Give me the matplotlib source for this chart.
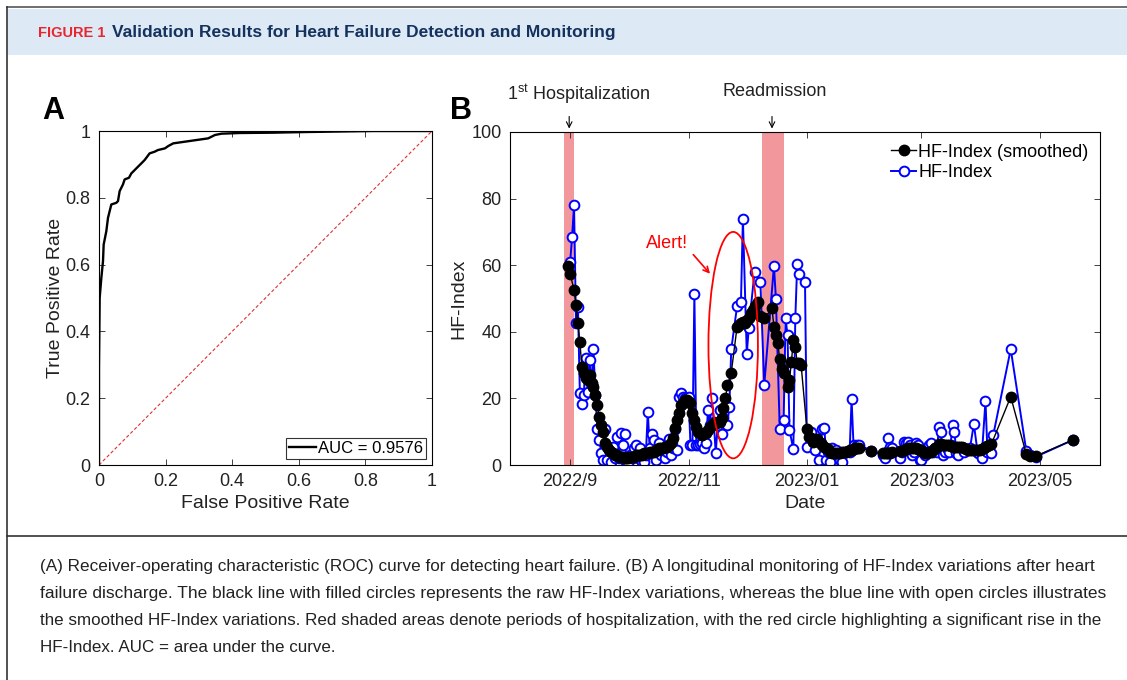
import pandas as pd
import matplotlib
matplotlib.use('Agg')
import matplotlib.pyplot as plt
import matplotlib.dates as mdates
from matplotlib.patches import Rectangle, Ellipse
from matplotlib.lines import Line2D

plt.rcParams['font.family'] = ['Liberation Sans', 'DejaVu Sans']
plt.rcParams['mathtext.fontset'] = 'custom'
plt.rcParams['mathtext.rm'] = 'Liberation Sans'

# ---- Panel A: ROC curve ----
roc_fpr = [0, 0, 0.002, 0.007, 0.012, 0.014, 0.022, 0.027, 0.032, 0.037, 0.052, 0.057,
           0.062, 0.072, 0.077, 0.09, 0.097, 0.112, 0.122, 0.137, 0.152, 0.167, 0.177,
           0.198, 0.208, 0.223, 0.258, 0.293, 0.328, 0.348, 0.368, 0.423, 0.524, 0.624,
           0.825, 1.0]
roc_tpr = [0, 0.29, 0.50, 0.56, 0.61, 0.66, 0.70, 0.74, 0.76, 0.78, 0.785, 0.79,
           0.82, 0.84, 0.855, 0.86, 0.873, 0.888, 0.898, 0.913, 0.933, 0.938, 0.943,
           0.948, 0.955, 0.963, 0.968, 0.973, 0.978, 0.988, 0.992, 0.994, 0.995, 0.997,
           1.0, 1.0]
auc_label = 'AUC = 0.9576'

# ---- Panel B: HF-Index monitoring, days counted from 2022-09-01 ----
start_date = '2022-09-01'
# raw HF-Index, in segments (days / values)
raw_days_1 = [0, 1, 2, 3, 4, 5, 6, 7, 8, 9,
              10, 11, 12, 13, 14, 15, 16, 17, 18, 19,
              20, 21, 22, 23, 24, 25, 26, 27, 28, 29,
              30, 31, 32, 33, 34, 35, 36, 37, 38, 39,
              40, 41, 42, 43, 44, 45, 46, 47, 48, 49,
              50, 51, 52, 53, 54, 55, 56, 57, 58, 59,
              60, 61, 62, 63, 64, 65, 66, 67, 68, 69,
              70, 71, 72, 73, 74, 75, 76, 77, 78, 79,
              80, 81, 82, 83]
raw_vals_1 = [61, 68.6, 78, 42.5, 47.5, 21.5, 18.3, 21, 32, 22,
              31.5, 24, 34.7, 21, 10.7, 7.5, 3.7, 1.5, 10.7, 1.5,
              5.5, 1, 5.5, 2, 8.5, 2, 9.5, 6, 9.3, 1,
              0.5, 3, 2, 5, 6, 2, 5, 1, 1, 3,
              16, 5, 9.3, 7.5, 1.5, 4, 6.5, 3, 5, 2,
              4, 7.7, 3, 5, 10.7, 4.5, 20.5, 21.5, 20.5, 20,
              20, 20.3, 6, 6, 51.5, 6, 6, 6.3, 6.5, 5,
              6.5, 16.5, 12, 20, 13, 3.5, 12, 16.5, 9.3, 14,
              17.5, 12, 17.5, 34.7]
raw_days_2 = [86, 88, 89, 91, 92, 95, 98, 100, 105, 106,
              108, 110, 111, 112, 113, 115, 116, 117, 118, 121,
              122, 124, 126, 128, 130, 131, 132, 133, 134, 135,
              137, 139, 140, 142, 144, 145, 146, 147, 148, 149,
              155]
raw_vals_2 = [47.7, 49, 74, 33.3, 41, 58, 55, 24, 59.8, 50,
              10.7, 13.5, 44, 39, 10.5, 4.7, 44, 60.5, 57.5, 55,
              5.5, 10, 4.5, 1.5, 10.7, 11, 1.5, 4, 1, 5,
              4.5, 1.5, 1, 4, 4, 19.7, 6, 5, 6, 6,
              4.3]
raw_days_3 = [161, 162, 163, 164, 165, 166,
              170, 171, 172, 173, 174, 175, 176, 177, 178, 179,
              180, 181, 182, 183, 184, 185, 186, 187, 188, 189,
              190, 191, 192, 193, 194, 195, 196, 197, 198, 199,
              200, 203, 206, 208, 210, 212, 214, 215, 217, 218,
              227, 235, 237, 240, 259]
raw_vals_3 = [3, 2, 4, 8, 5.5, 5,
              2, 4, 7, 6.5, 7, 6, 3, 4, 6.5, 6,
              1.5, 1.5, 4, 3, 5, 6, 6.5, 4, 5, 4,
              11.5, 10, 3, 4, 5, 4, 6, 12, 10, 3.5,
              3, 4, 5, 12.3, 3.5, 2, 19.3, 4, 3.7, 9,
              34.8, 4.3, 3, 2.5, 7.5]

smooth_days = [-1, 0, 2, 3, 4, 5, 6, 7, 8, 9, 10, 11, 12, 13, 14, 15, 16, 17, 18, 19, 20,
               21, 22, 23, 24, 25, 26, 27, 28, 29, 30, 31, 32, 33, 34, 35, 36, 37, 38, 39, 40,
               41, 42, 43, 44, 45, 46, 47, 48, 49, 50, 51, 52, 53, 54, 55, 56, 57, 58, 59, 60,
               61, 62, 63, 64, 65, 66, 67, 68, 69, 70, 71, 72, 73, 74, 75, 76, 77, 78, 79, 80,
               81, 83, 86, 87, 88, 89, 90, 91, 92, 93, 94, 95, 97, 98, 100, 104, 105, 106, 107,
               108, 109, 110, 112, 113, 114, 115, 116, 117, 118, 119, 122, 123, 124, 125, 126,
               127, 128, 129, 130, 131, 132, 133, 134, 135, 136, 137, 138, 139, 140, 141, 142,
               143, 144, 145, 146, 147, 148, 149, 155, 161, 162, 163, 164, 165, 166, 170, 171,
               172, 173, 174, 175, 176, 177, 178, 179, 180, 181, 182, 183, 184, 185, 186, 187,
               188, 189, 190, 191, 192, 193, 194, 195, 196, 197, 198, 199, 200, 201, 202, 203,
               204, 205, 206, 207, 208, 209, 210, 211, 212, 213, 214, 215, 216, 217, 227, 235,
               237, 240, 259]
smooth_vals = [59.8, 57.5, 52.5, 48, 42.5, 37, 29.5, 27.5, 26, 25.5, 27, 24.5, 23.5, 21, 18,
               14.5, 12, 10, 6.5, 5.5, 4.5, 4, 3.5, 3, 3, 2.5, 2.5, 2.5, 2, 2, 2, 2.5, 2.5,
               2.5, 3, 3, 3, 3, 3.5, 3.5, 3.5, 4, 4, 4, 4.5, 4.5, 5, 5, 5, 5.5, 5.5, 6, 6.5,
               8, 11, 13.5, 15.5, 18, 18.5, 19.5, 19.5, 19, 18.5, 15.5, 13.5, 11.5, 10, 9.5, 9,
               9.5, 9.5, 10.5, 11.5, 12, 12.5, 12.5, 13, 13, 14, 17, 20, 24, 27.7, 41.5, 42,
               42.5, 43, 42.5, 43.5, 44, 45.5, 46.5, 47.7, 49, 44.7, 44, 47, 41.5, 39, 36.5,
               31.7, 28.7, 27.5, 23.5, 25.5, 31, 37.5, 35.5, 30.5, 30.5, 30, 10.7, 8.5, 8, 7,
               7.5, 7.7, 7, 6.5, 6, 5.5, 5, 4.7, 4, 3.5, 3.5, 3.7, 3.7, 3.7, 3.8, 4, 4, 4.2,
               4.5, 4.5, 4.7, 5, 5, 5.2, 4.2, 3.5, 3.7, 3.7, 3.7, 3.7, 3.8, 4.2, 4.3, 4.5, 4.7,
               5, 5, 5, 5, 5, 4.8, 4.5, 4.5, 4, 3.5, 3.7, 4, 4, 4.5, 5, 5.5, 6.3, 6.2, 6, 6, 6,
               6, 5.8, 5.5, 5.5, 5.5, 5.5, 5.5, 5.3, 5, 4.8, 4.5, 4.5, 4.5, 4.5, 4.5, 4.5, 4.5,
               4.8, 5, 5.5, 5.8, 6, 6.2, 20.5, 3.3, 2.7, 2.7, 7.5]

hosp_periods = [('2022-08-29', '2022-09-03'), ('2022-12-09', '2022-12-20')]
date_ticks = ['2022-09-01', '2022-11-01', '2023-01-01', '2023-03-01', '2023-05-01']
date_tick_labels = ['2022/9', '2022/11', '2023/01', '2023/03', '2023/05']

caption_lines = [
    '(A) Receiver-operating characteristic (ROC) curve for detecting heart failure. (B) A longitudinal monitoring of HF-Index variations after heart',
    'failure discharge. The black line with filled circles represents the raw HF-Index variations, whereas the blue line with open circles illustrates',
    'the smoothed HF-Index variations. Red shaded areas denote periods of hospitalization, with the red circle highlighting a significant rise in the',
    'HF-Index. AUC = area under the curve.',
]

base = pd.Timestamp(start_date)
raw_days = raw_days_1 + raw_days_2 + raw_days_3
raw_vals = raw_vals_1 + raw_vals_2 + raw_vals_3
raw_dates = base + pd.to_timedelta(raw_days, unit='D')
smooth_dates = base + pd.to_timedelta(smooth_days, unit='D')

W, H = 1127, 680
fig = plt.figure(figsize=(W / 100, H / 100), dpi=100)
renderer = fig.canvas.get_renderer()


def fx(px):
    return px / W


def fy(py):
    return 1 - py / H


def fit_width(t, target_px):
    # scale the font so the text spans about target_px pixels
    w = t.get_window_extent(renderer).width
    t.set_fontsize(t.get_fontsize() * target_px / w)


# header banner and frame lines
fig.patches.append(Rectangle((fx(8), fy(55)), 1, fy(9) - fy(55), transform=fig.transFigure,
                             facecolor='#dde9f5', edgecolor='none', zorder=0))
fig.lines.append(Line2D([fx(7), 1], [fy(7), fy(7)], transform=fig.transFigure, color='#555555', lw=1.2))
fig.lines.append(Line2D([fx(7), fx(7)], [fy(7), 0], transform=fig.transFigure, color='#333333', lw=1.2))
fig.lines.append(Line2D([fx(7), 1], [fy(536), fy(536)], transform=fig.transFigure, color='#333333', lw=1.2))

fig.text(fx(38), fy(33), 'FIGURE 1', color='#e8262e', fontsize=10.5, fontweight='bold',
         va='center', ha='left')
t2 = fig.text(fx(112), fy(33), 'Validation Results for Heart Failure Detection and Monitoring',
              color='#14325e', fontsize=11, fontweight='bold', va='center', ha='left')
fit_width(t2, 504)

cap_targets = [1050, 1060, 1057, 0]
for i, line in enumerate(caption_lines):
    t = fig.text(fx(40), fy(566 + 27.3 * i), line, fontsize=11,
                 color='#222222', va='center', ha='left')
    if cap_targets[i]:
        fit_width(t, cap_targets[i])
        cap_size = t.get_fontsize()
    else:
        t.set_fontsize(cap_size)

# ---- Panel A ----
axA = fig.add_axes([fx(99), fy(465), fx(432) - fx(99), fy(131) - fy(465)])
axA.plot(roc_fpr, roc_tpr, color='black', lw=1.7, label=auc_label)
axA.plot([0, 1], [0, 1], color='#e03030', lw=0.8, ls=(0, (3, 2)))
axA.set_xlim(0, 1)
axA.set_ylim(0, 1)
axA.set_xticks([0, 0.2, 0.4, 0.6, 0.8, 1])
axA.set_xticklabels(['0', '0.2', '0.4', '0.6', '0.8', '1'])
axA.set_yticks([0, 0.2, 0.4, 0.6, 0.8, 1])
axA.set_yticklabels(['0', '0.2', '0.4', '0.6', '0.8', '1'])
axA.tick_params(direction='in', top=True, right=True, labelsize=13, length=4, width=0.6,
                colors='#222222', pad=6)
axA.set_xlabel('False Positive Rate', fontsize=14, color='#222222', labelpad=3)
axA.set_ylabel('True Positive Rate', fontsize=14, color='#222222', labelpad=1)
leg = axA.legend(loc='lower right', fontsize=12, frameon=True, fancybox=False, handlelength=1.6,
                 handletextpad=0.1, borderpad=0.2, borderaxespad=0.35)
leg.get_frame().set_edgecolor('black')
leg.get_frame().set_linewidth(0.8)
for s in axA.spines.values():
    s.set_linewidth(0.8)
fig.text(fx(53), fy(111), 'A', fontsize=22, fontweight='bold', va='center', ha='center')

# ---- Panel B ----
axB = fig.add_axes([fx(510), fy(465), fx(1100) - fx(510), fy(132) - fy(465)])
for a, b in hosp_periods:
    axB.axvspan(pd.Timestamp(a), pd.Timestamp(b), color='#f2979b', lw=0, zorder=0)
axB.plot(smooth_dates, smooth_vals, color='black', lw=1.0, marker='o', ms=7.5,
         mfc='black', mec='black', label='HF-Index (smoothed)', zorder=3)
axB.plot(raw_dates, raw_vals, color='#0000ff', lw=1.4, marker='o', ms=7, mfc='white',
         mec='#0000ff', mew=1.4, label='HF-Index', zorder=2)
axB.set_xlim(pd.Timestamp('2022-08-01'), pd.Timestamp('2023-06-01'))
axB.set_ylim(0, 100)
axB.set_xticks([pd.Timestamp(d) for d in date_ticks])
axB.set_xticklabels(date_tick_labels)
axB.set_yticks([0, 20, 40, 60, 80, 100])
axB.tick_params(direction='in', top=True, right=True, labelsize=13, length=4, width=0.6,
                colors='#222222', pad=6)
axB.set_xlabel('Date', fontsize=14, color='#222222', labelpad=3)
axB.set_ylabel('HF-Index', fontsize=14, color='#222222', labelpad=3)
for s in axB.spines.values():
    s.set_linewidth(0.8)
leg2 = axB.legend(loc='upper right', fontsize=13, frameon=False, handlelength=1.4,
                  handletextpad=0.1, labelspacing=0.2, borderaxespad=0.25)

# red ellipse and alert
cx = mdates.date2num(base + pd.Timedelta(days=84))
axB.add_patch(Ellipse((cx, 36), 25.5, 68, fill=False, edgecolor='red', lw=1.3, zorder=4))
axB.text(base + pd.Timedelta(days=50), 66.5, 'Alert!', color='red', fontsize=13, ha='center', va='center')
axB.annotate('', xy=(base + pd.Timedelta(days=73), 56.8), xytext=(base + pd.Timedelta(days=62.5), 63.8),
             arrowprops=dict(arrowstyle='->', color='red', lw=1.2))

# hospitalization labels
axB.annotate('', xy=(base + pd.Timedelta(days=-0.5), 100.2), xytext=(base + pd.Timedelta(days=-0.5), 105.5),
             arrowprops=dict(arrowstyle='->', color='black', lw=0.8), annotation_clip=False)
axB.annotate('', xy=(base + pd.Timedelta(days=104), 100.2), xytext=(base + pd.Timedelta(days=104), 105.5),
             arrowprops=dict(arrowstyle='->', color='black', lw=0.8), annotation_clip=False)
axB.text(base + pd.Timedelta(days=4.5), 111.5, r'1$^{\rm st}$ Hospitalization', fontsize=13,
         ha='center', va='center', color='#222222', clip_on=False)
axB.text(base + pd.Timedelta(days=105.5), 112.3, 'Readmission', fontsize=13,
         ha='center', va='center', color='#222222', clip_on=False)
fig.text(fx(461), fy(111), 'B', fontsize=22, fontweight='bold', va='center', ha='center')

fig.savefig('out.png', dpi=100)
